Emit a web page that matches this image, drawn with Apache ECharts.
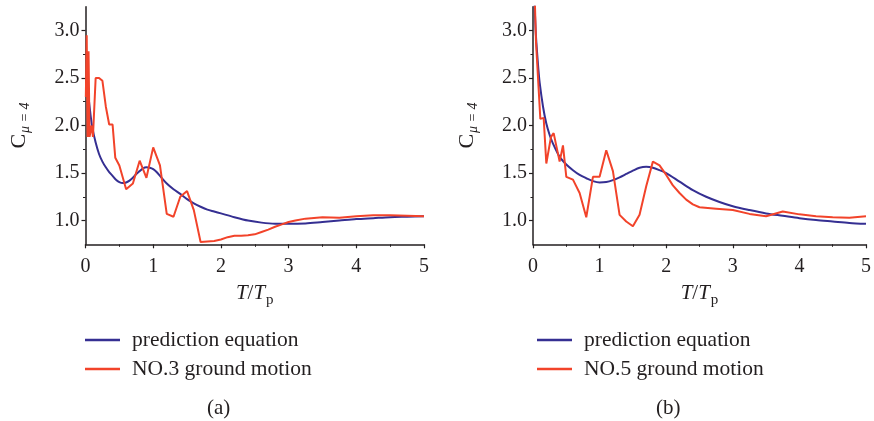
<!DOCTYPE html>
<html>
<head>
<meta charset="utf-8">
<script src="https://cdn.jsdelivr.net/npm/echarts@6/dist/echarts.min.js"></script>
<style>
  html, body { margin: 0; padding: 0; background: #fff; }
  #chart { width: 874px; height: 421px; }
</style>
</head>
<body>
<div id="chart"></div>
<script>
// Period ratio T/Tp and strength reduction factor C(mu=4)

// (a) prediction equation
const predA_T = [0.02, 0.05, 0.08, 0.10, 0.15, 0.20, 0.25, 0.30, 0.35, 0.40, 0.45, 0.50, 0.55, 0.60, 0.65, 0.70, 0.75, 0.80, 0.85, 0.90, 0.95, 1.00, 1.05, 1.10, 1.20, 1.30, 1.40, 1.50, 1.60, 1.70, 1.80, 1.90, 2.00, 2.20, 2.40, 2.60, 2.80, 3.00, 3.25, 3.50, 3.75, 4.00, 4.25, 4.50, 4.75, 5.00];
const predA_C = [2.58, 2.27, 2.08, 1.98, 1.82, 1.70, 1.62, 1.56, 1.51, 1.47, 1.43, 1.405, 1.395, 1.40, 1.42, 1.45, 1.49, 1.52, 1.55, 1.56, 1.555, 1.54, 1.51, 1.47, 1.39, 1.33, 1.28, 1.225, 1.18, 1.145, 1.115, 1.095, 1.075, 1.035, 1.0, 0.978, 0.966, 0.965, 0.97, 0.985, 1.0, 1.015, 1.025, 1.035, 1.04, 1.045];

// (a) NO.3 ground motion
const gm3_T = [0.005, 0.018, 0.03, 0.045, 0.06, 0.09, 0.11, 0.15, 0.20, 0.25, 0.30, 0.35, 0.40, 0.44, 0.50, 0.60, 0.70, 0.80, 0.90, 1.00, 1.10, 1.20, 1.30, 1.40, 1.50, 1.60, 1.70, 1.80, 1.90, 2.00, 2.10, 2.20, 2.30, 2.40, 2.50, 2.60, 2.70, 2.80, 2.90, 3.00, 3.10, 3.25, 3.50, 3.75, 4.00, 4.25, 4.50, 4.75, 5.00];
const gm3_C = [2.3, 2.95, 1.88, 2.78, 1.88, 2.0, 1.88, 2.5, 2.5, 2.47, 2.2, 2.01, 2.01, 1.66, 1.58, 1.33, 1.39, 1.63, 1.45, 1.77, 1.58, 1.07, 1.04, 1.25, 1.31, 1.11, 0.775, 0.78, 0.785, 0.80, 0.825, 0.84, 0.84, 0.845, 0.855, 0.88, 0.905, 0.935, 0.96, 0.985, 1.0, 1.02, 1.035, 1.03, 1.045, 1.055, 1.055, 1.05, 1.045];

// (b) prediction equation
const predB_T = [0.02, 0.04, 0.06, 0.08, 0.10, 0.15, 0.20, 0.25, 0.30, 0.40, 0.50, 0.60, 0.70, 0.80, 0.90, 1.00, 1.10, 1.20, 1.30, 1.40, 1.50, 1.60, 1.70, 1.80, 1.90, 2.00, 2.20, 2.40, 2.60, 2.80, 3.00, 3.25, 3.50, 3.75, 4.00, 4.25, 4.50, 4.75, 5.00];
const predB_C = [3.35, 3.0, 2.78, 2.6, 2.45, 2.2, 2.02, 1.9, 1.81, 1.67, 1.59, 1.53, 1.48, 1.445, 1.415, 1.40, 1.405, 1.425, 1.455, 1.49, 1.525, 1.555, 1.565, 1.555, 1.53, 1.50, 1.41, 1.32, 1.25, 1.195, 1.15, 1.11, 1.075, 1.05, 1.025, 1.005, 0.99, 0.975, 0.965];

// (b) NO.5 ground motion
const gm5_T = [0.02, 0.045, 0.11, 0.16, 0.20, 0.27, 0.31, 0.40, 0.45, 0.50, 0.60, 0.70, 0.80, 0.90, 1.00, 1.10, 1.20, 1.30, 1.40, 1.50, 1.60, 1.70, 1.80, 1.90, 2.00, 2.10, 2.20, 2.30, 2.40, 2.50, 2.75, 3.00, 3.25, 3.50, 3.75, 4.00, 4.25, 4.50, 4.75, 5.00];
const gm5_C = [3.5, 2.88, 2.07, 2.08, 1.60, 1.88, 1.92, 1.62, 1.79, 1.46, 1.43, 1.29, 1.035, 1.46, 1.46, 1.74, 1.52, 1.06, 0.99, 0.94, 1.06, 1.36, 1.62, 1.58, 1.48, 1.37, 1.29, 1.22, 1.17, 1.14, 1.125, 1.11, 1.07, 1.045, 1.095, 1.065, 1.045, 1.035, 1.03, 1.045];

// axis ticks
const yMajor = [1.0, 1.5, 2.0, 2.5, 3.0];
const yMinor = [1.25, 1.75, 2.25, 2.75];

const BLUE = '#352f92';
const RED = '#f2432a';
const INK = '#231f20';
const FONT = '"Liberation Serif", "DejaVu Serif", serif';

const pairs = (xs, ys) => xs.map((x, i) => [x, ys[i]]);

function xAxisFor(gridIndex) {
  return {
    type: 'value', gridIndex: gridIndex, min: 0, max: 5, interval: 1,
    axisLine: { show: true, lineStyle: { color: INK, width: 1.5 } },
    axisTick: { show: true, length: 4, lineStyle: { color: INK, width: 1.2 } },
    minorTick: { show: true, splitNumber: 2, length: 2.5, lineStyle: { color: INK, width: 1 } },
    splitLine: { show: false },
    axisLabel: { color: INK, fontFamily: FONT, fontSize: 20, margin: 12 },
    name: '{i|T}{n|/}{i|T}{s|p}',
    nameLocation: 'middle', nameGap: 36,
    nameTextStyle: {
      rich: {
        i: { fontFamily: FONT, fontStyle: 'italic', fontSize: 21, color: INK },
        n: { fontFamily: FONT, fontSize: 21, color: INK },
        s: { fontFamily: FONT, fontSize: 15, color: INK, padding: [12, 0, 0, 1] }
      }
    }
  };
}

function yAxisFor(gridIndex) {
  return {
    type: 'value', gridIndex: gridIndex, min: 0.75, max: 3.25,
    axisLine: { show: true, lineStyle: { color: INK, width: 1.5 } },
    axisTick: { show: true, length: 4, customValues: yMajor, lineStyle: { color: INK, width: 1.2 } },
    splitLine: { show: false },
    axisLabel: {
      color: INK, fontFamily: FONT, fontSize: 20, margin: 6,
      customValues: yMajor,
      formatter: v => v.toFixed(1)
    },
    name: '{c|C}{s|μ = 4}',
    nameLocation: 'middle', nameGap: 53,
    nameTextStyle: {
      rich: {
        c: { fontFamily: FONT, fontSize: 22, color: INK },
        s: { fontFamily: FONT, fontStyle: 'italic', fontSize: 14, color: INK, padding: [12, 0, 0, 1] }
      }
    }
  };
}

// secondary axis carrying only the short minor ticks
function yMinorAxisFor(gridIndex) {
  return {
    type: 'value', gridIndex: gridIndex, min: 0.75, max: 3.25, position: 'left',
    axisLine: { show: false },
    axisTick: { show: true, length: 2.5, customValues: yMinor, lineStyle: { color: INK, width: 1 } },
    axisLabel: { show: false },
    splitLine: { show: false }
  };
}

const lineStyle = (c) => ({ color: c, width: 2 });

const legendBase = {
  orient: 'vertical', icon: 'rect', itemWidth: 35, itemHeight: 2.5, itemGap: 7,
  padding: 0,
  selectedMode: false,
  textStyle: { fontFamily: FONT, fontSize: 21.5, color: INK, padding: [0, 0, 0, 7] }
};

const option = {
  animation: false,
  backgroundColor: '#ffffff',
  grid: [
    { left: 85.5, top: 6.7, width: 338.5, height: 237.6 },
    { left: 533, top: 6.7, width: 339.5, height: 237.6 }
  ],
  xAxis: [xAxisFor(0), xAxisFor(1)],
  yAxis: [yAxisFor(0), yMinorAxisFor(0), yAxisFor(1), yMinorAxisFor(1)],
  legend: [
    Object.assign({}, legendBase, { left: 85, top: 329, data: ['prediction equation', 'NO.3 ground motion'] }),
    Object.assign({}, legendBase, { left: 537, top: 329, data: ['prediction equation', 'NO.5 ground motion'] })
  ],
  series: [
    { name: 'prediction equation', type: 'line', xAxisIndex: 0, yAxisIndex: 0, data: pairs(predA_T, predA_C), showSymbol: false, smooth: 0.3, color: BLUE, lineStyle: lineStyle(BLUE), z: 2 },
    { name: 'NO.3 ground motion', type: 'line', xAxisIndex: 0, yAxisIndex: 0, data: pairs(gm3_T, gm3_C), showSymbol: false, color: RED, lineStyle: lineStyle(RED), z: 3 },
    { name: 'prediction equation', type: 'line', xAxisIndex: 1, yAxisIndex: 2, data: pairs(predB_T, predB_C), showSymbol: false, smooth: 0.3, color: BLUE, lineStyle: lineStyle(BLUE), z: 2 },
    { name: 'NO.5 ground motion', type: 'line', xAxisIndex: 1, yAxisIndex: 2, data: pairs(gm5_T, gm5_C), showSymbol: false, color: RED, lineStyle: lineStyle(RED), z: 3 }
  ],
  graphic: [
    { type: 'text', left: 207, top: 398, style: { text: '(a)', fontFamily: FONT, fontSize: 21, fill: INK } },
    { type: 'text', left: 656, top: 398, style: { text: '(b)', fontFamily: FONT, fontSize: 21, fill: INK } }
  ]
};

const chart = echarts.init(document.getElementById('chart'), null, { renderer: 'canvas' });
chart.setOption(option);
</script>
</body>
</html>
